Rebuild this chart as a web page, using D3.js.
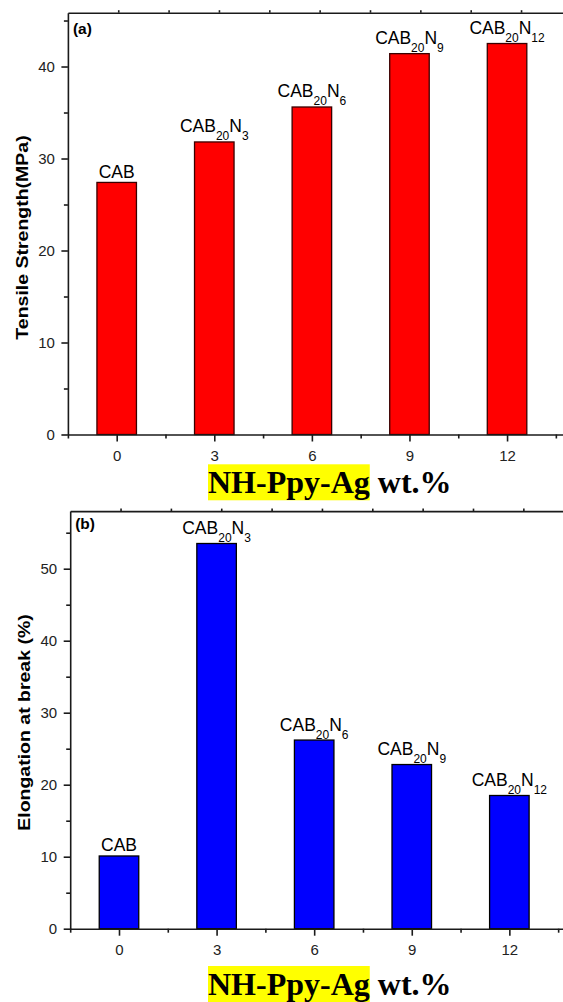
<!DOCTYPE html>
<html>
<head>
<meta charset="utf-8">
<script src="https://cdn.jsdelivr.net/npm/d3@7"></script>
<style>
  body { margin: 0; background: #fff; }
  svg { display: block; }
</style>
</head>
<body>
<div class="chart"></div>
<script>
//DATA ***********************************************************************
const wtPct = [0, 3, 6, 9, 12]; //NH-Ppy-Ag loading, also the x tick labels
const tensile = [27.4, 31.8, 35.6, 41.4, 42.5]; //MPa
const elongation = [10.1, 53.5, 26.2, 22.8, 18.5]; //%
//sample names CAB20N3 etc, split so the subscripts can be drawn
const labelBase = ["CAB", "CAB", "CAB", "CAB", "CAB"];
const labelSubA = ["", "20", "20", "20", "20"];
const labelMid = ["", "N", "N", "N", "N"];
const labelSubB = ["", "3", "6", "9", "12"];
const yTicksA = [0, 10, 20, 30, 40];
const yMinorA = [5, 15, 25, 35, 45];
const yTicksB = [0, 10, 20, 30, 40, 50];
const yMinorB = [5, 15, 25, 35, 45, 55];
const xMinor = [-1.5, 1.5, 4.5, 7.5, 10.5, 13.5];
const yTitleA = "Tensile Strength(MPa)";
const yTitleB = "Elongation at break (%)";
const xTitleMain = "NH-Ppy-Ag";
const xTitleUnit = "wt.%";

//LAYOUT *********************************************************************
const svg = d3.select(".chart").
append("svg").
attr("width", 563).
attr("height", 1002);

const pxPerWt = 32.53; //97.6px between two categories (3 wt.%)

function drawPanel(p) {
  const g = svg.append("g");

  const x = d3.scaleLinear().
  domain([-1.5, 15]) //frame runs past the right edge of the picture
  .range([p.left, p.left + 16.5 * pxPerWt]);
  const y = d3.scaleLinear().
  domain([0, p.yMax]).
  range([p.bottom, p.top]);
  const barWidth = (x(3) - x(0)) * 0.405;

  //BARS
  g.selectAll("rect.bar").
  data(p.values).
  enter().
  append("rect").
  attr("class", "bar").
  attr("x", (d, i) => x(wtPct[i]) - barWidth / 2).
  attr("y", d => y(d)).
  attr("width", barWidth).
  attr("height", d => y(0) - y(d)).
  attr("fill", p.color).
  attr("stroke", p.stroke).
  attr("stroke-width", 1.3);

  //BAR LABELS (CAB, CAB20N3 ...)
  const labels = g.selectAll("text.lab").
  data(p.values).
  enter().
  append("text").
  attr("class", "lab").
  attr("x", (d, i) => x(wtPct[i])).
  attr("y", (d, i) => y(d) - (labelSubA[i] ? 9.5 : 4.5)).
  attr("text-anchor", "middle").
  style("font-family", "'Liberation Sans', Arial, sans-serif").
  style("font-size", "17.5px").
  style("fill", "#000");
  labels.each(function (d, i) {
    const t = d3.select(this);
    t.append("tspan").text(labelBase[i]);
    if (labelSubA[i]) {
      t.append("tspan").attr("dy", 8).style("font-size", "12px").text(labelSubA[i]);
      t.append("tspan").attr("dy", -8).text(labelMid[i]);
      t.append("tspan").attr("dy", 8).style("font-size", "12px").text(labelSubB[i]);
    }
  });

  //AXES
  //x axis, major + minor ticks
  g.append("g").
  attr("transform", `translate(0, ${y(0)})`).
  call(d3.axisBottom(x).tickValues(wtPct).tickSize(7).tickSizeOuter(0).tickPadding(9));
  g.append("g").
  attr("transform", `translate(0, ${y(0)})`).
  call(d3.axisBottom(x).tickValues(xMinor).tickSize(4).tickFormat("")).
  select(".domain").remove();

  //y axis
  g.append("g").
  attr("transform", `translate(${p.left}, 0)`).
  call(d3.axisLeft(y).tickValues(p.yTicks).tickSize(6.5).tickSizeOuter(0).tickPadding(6.5));
  g.append("g").
  attr("transform", `translate(${p.left}, 0)`).
  call(d3.axisLeft(y).tickValues(p.yMinor).tickSize(4).tickFormat("")).
  select(".domain").remove();

  //top border, its ticks do not line up with the bottom ones in the original
  const topScale = d3.scaleLinear().domain([0, 11]).range([p.left, p.left + 11 * 50.35]);
  g.append("g").
  attr("transform", `translate(0, ${p.top})`).
  call(d3.axisTop(topScale).tickValues(d3.range(1, 11)).tickSize(2.5).tickSizeOuter(0).tickFormat(""));

  g.selectAll(".domain, .tick line").
  attr("stroke", "#1a1a1a").
  attr("stroke-width", 1.6);
  g.selectAll(".tick text").
  attr("fill", "#222").
  style("font-family", "'Liberation Sans', Arial, sans-serif").
  style("font-size", "15px");

  //panel tag (a)/(b)
  g.append("text").
  attr("x", p.left + 5).
  attr("y", p.tagY).
  style("font-family", "'Liberation Sans', Arial, sans-serif").
  style("font-weight", "bold").
  style("font-size", "15.5px").
  text(p.tag);

  //y title, a bit stretched along its length like the picture
  g.append("text").
  attr("transform", `translate(${p.yTitleX}, ${p.yTitleY}) scale(0.86, 1) rotate(-90)`).
  attr("text-anchor", "middle").
  style("font-family", "'Liberation Sans', Arial, sans-serif").
  style("font-weight", "bold").
  style("font-size", "19.5px").
  text(p.yTitle);

  //x title with yellow highlight
  const hl = g.append("rect").attr("fill", "#ffff00");
  const t1 = g.append("text").
  attr("x", 208).
  attr("y", p.xTitleY).
  style("font-family", "'Liberation Serif', 'Times New Roman', serif").
  style("font-weight", "bold").
  style("font-size", "32px").
  text(xTitleMain);
  const bb = t1.node().getBBox();
  hl.attr("x", bb.x).attr("y", bb.y).attr("width", bb.width).attr("height", bb.height);
  g.append("text").
  attr("x", bb.x + bb.width + 8).
  attr("y", p.xTitleY).
  style("font-family", "'Liberation Serif', 'Times New Roman', serif").
  style("font-weight", "bold").
  style("font-size", "32px").
  text(xTitleUnit);
}

//PANEL (a) ******************************************************************
drawPanel({
  values: tensile, yTicks: yTicksA, yMinor: yMinorA, yMax: 45.85,
  left: 67.9, top: 12.7, bottom: 434.5,
  color: "#ff0000", stroke: "#3a0000",
  tag: "(a)", tagY: 34,
  yTitle: yTitleA, yTitleX: 27.5, yTitleY: 237.5,
  xTitleY: 493.3
});

//PANEL (b) ******************************************************************
drawPanel({
  values: elongation, yTicks: yTicksB, yMinor: yMinorB, yMax: 58,
  left: 70.2, top: 511.1, bottom: 928.7,
  color: "#0000ff", stroke: "#000000",
  tag: "(b)", tagY: 529,
  yTitle: yTitleB, yTitleX: 29.5, yTitleY: 722.5,
  xTitleY: 995
});
</script>
</body>
</html>
